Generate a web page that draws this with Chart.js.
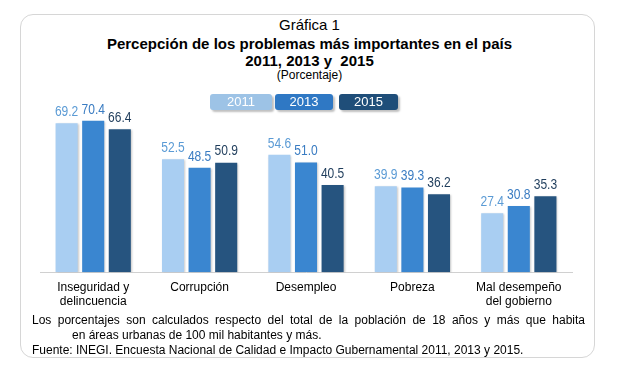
<!DOCTYPE html>
<html><head><meta charset="utf-8">
<script src="https://cdn.jsdelivr.net/npm/chart.js@4"></script>
<style>
html,body{margin:0;padding:0;background:#fff;width:619px;height:378px;overflow:hidden;font-family:"Liberation Sans",Arial,sans-serif;}
#frame{position:absolute;left:20px;top:14px;width:575px;height:344px;border:1px solid #d6d6d6;border-radius:13px;box-sizing:border-box;}
.t{position:absolute;left:0;width:619px;text-align:center;color:#000;white-space:nowrap;}
#wrap{position:absolute;left:20px;top:85px;width:572px;height:232px;}
.lg{position:absolute;top:94px;height:16px;border-radius:3px;color:#fff;font-size:13px;line-height:16px;text-align:center;box-shadow:2px 2px 2px rgba(0,0,0,0.25);}
#note{position:absolute;left:32px;top:313px;width:553px;font-size:12px;line-height:15px;color:#000;}
#note p{margin:0;}
</style></head><body>
<div id="frame"></div>
<div class="t" style="top:16px;font-size:15px;">Gráfica 1</div>
<div class="t" style="top:35px;font-size:15px;font-weight:bold;">Percepción de los problemas más importantes en el país</div>
<div class="t" style="top:52px;font-size:15px;font-weight:bold;">2011, 2013 y&nbsp; 2015</div>
<div class="t" style="top:68px;font-size:12px;">(Porcentaje)</div>
<div id="wrap"><canvas id="c"></canvas></div>
<div id="legend"></div>
<div id="note">
<p style="text-align:justify;text-align-last:justify;word-spacing:2px;">Los porcentajes son calculados respecto del total de la población de 18 años y más que habita</p>
<p style="padding-left:40px;">en áreas urbanas de 100 mil habitantes y más.</p>
<p>Fuente: INEGI. Encuesta Nacional de Calidad e Impacto Gubernamental 2011, 2013 y 2015.</p>
</div>
<script>
const categories = [["Inseguridad y","delincuencia"],"Corrupción","Desempleo","Pobreza",["Mal desempeño","del gobierno"]];
const years = ["2011","2013","2015"];
const values2011 = [69.2, 52.5, 54.6, 39.9, 27.4];
const values2013 = [70.4, 48.5, 51.0, 39.3, 30.8];
const values2015 = [66.4, 50.9, 40.5, 36.2, 35.3];
const barColors = ["#a9cef2","#3a86d0","#26547f"];
const labelColors = ["#5b9bd5","#3a7cc2","#1f3d5c"];
const legendColors = ["#9dc3e6","#2f78c4","#1f4e79"];

// legend (HTML)
const lgPos = [[210,62],[275,58],[339,59]];
const lg = document.getElementById('legend');
years.forEach((y,i)=>{
  const d=document.createElement('div');d.className='lg';d.textContent=y;
  d.style.left=lgPos[i][0]+'px';d.style.width=lgPos[i][1]+'px';d.style.background=legendColors[i];
  lg.appendChild(d);
});

const labelPlugin = {
  id:'vlabels',
  afterDatasetsDraw(chart){
    const ctx=chart.ctx;
    chart.data.datasets.forEach((ds,di)=>{
      const meta=chart.getDatasetMeta(di);
      meta.data.forEach((bar,i)=>{
        ctx.save();
        ctx.font='14px "Liberation Sans", Arial, sans-serif';
        ctx.textAlign='center';ctx.textBaseline='bottom';
        ctx.fillStyle=labelColors[di];
        ctx.translate(bar.x, bar.y-4);
        ctx.scale(0.86,1);
        ctx.fillText(ds.data[i].toFixed(1), 0, 0);
        ctx.restore();
      });
    });
  }
};
const shadowPlugin = {
  id:'shadow',
  beforeDatasetsDraw(chart){const c=chart.ctx;c.save();c.shadowColor='rgba(0,0,0,0.22)';c.shadowBlur=2;c.shadowOffsetX=1;c.shadowOffsetY=1;},
  afterDatasetsDraw(chart){chart.ctx.restore();}
};

new Chart(document.getElementById('c'),{
  type:'bar',
  data:{labels:categories,datasets:[
    {label:years[0],data:values2011,backgroundColor:barColors[0]},
    {label:years[1],data:values2013,backgroundColor:barColors[1]},
    {label:years[2],data:values2015,backgroundColor:barColors[2]}
  ]},
  options:{
    responsive:true,maintainAspectRatio:false,animation:false,
    layout:{padding:{left:20,right:20,top:15,bottom:0}},
    datasets:{bar:{categoryPercentage:0.75,barPercentage:0.83}},
    plugins:{legend:{display:false},tooltip:{enabled:false},title:{display:false}},
    scales:{
      x:{grid:{display:false,drawTicks:false},border:{display:true,color:'#d0d0d0',width:1},
         ticks:{color:'#000',font:{family:'"Liberation Sans", Arial, sans-serif',size:12},padding:8,maxRotation:0,autoSkip:false}},
      y:{display:false,min:0,max:80}
    }
  },
  plugins:[shadowPlugin,labelPlugin]
});
</script>
</body></html>
